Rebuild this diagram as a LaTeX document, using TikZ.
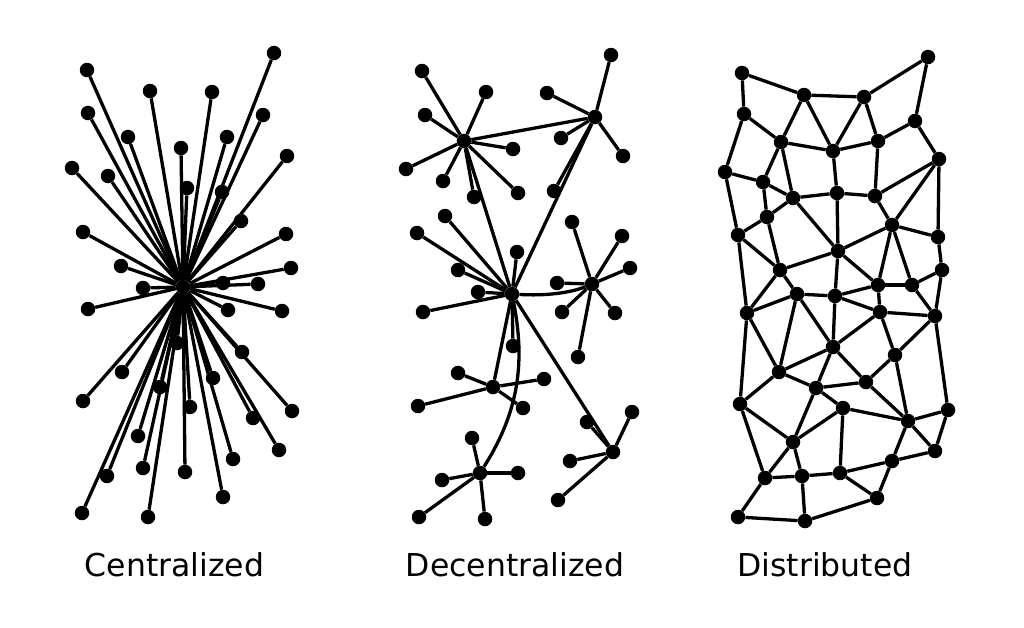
\documentclass[tikz,border=0pt]{standalone}
\usepackage{fontspec}
\setmainfont{DejaVu Sans}
\tikzset{
  dot/.style={circle, fill=black, inner sep=0pt, minimum size=14.5pt},
  link/.style={line width=3.3pt, black},
  caption/.style={anchor=base, font=\fontsize{31.5}{36}\selectfont, inner sep=0pt}
}
\begin{document}
\begin{tikzpicture}[x=1pt,y=-1pt]
\useasboundingbox[fill=white] (0,0) rectangle (1024,627);

% ---------------- Centralized ----------------
\node[dot] (ch) at (183,287) {};
\foreach [count=\i] \x/\y in {87/70,274/53,150/91,212/92,88/113,263/115,128/137,227/137,181/148,287/156,72/168,108/176,187/188,222/192,241/221,83/232,286/234,121/266,291/268,223/283,258/284,143/288,88/309,228/310,282/311,242/352,122/372,213/378,160/387,83/401,190/407,292/411,253/418,138/436,233/459,279/450,143/468,185/472,107/476,223/497,82/513,148/517,177/343}
{
  \node[dot] (c\i) at (\x,\y) {};
  \draw[link] (ch) -- (c\i);
}

% ---------------- Decentralized ----------------
\node[dot] (dA) at (464,141) {};
\node[dot] (dB) at (595,117) {};
\node[dot] (dC) at (512,294) {};
\node[dot] (dD) at (592,284) {};
\node[dot] (dE) at (493,387) {};
\node[dot] (dF) at (480,473) {};
\node[dot] (dG) at (613,452) {};

\foreach [count=\i] \x/\y in {422/71,486/92,425/115,513/149,406/169,443/181,474/197,518/193}
{ \node[dot] (a\i) at (\x,\y) {}; \draw[link] (dA) -- (a\i); }
\foreach [count=\i] \x/\y in {611/55,547/93,561/138,623/156,554/191}
{ \node[dot] (b\i) at (\x,\y) {}; \draw[link] (dB) -- (b\i); }
\foreach [count=\i] \x/\y in {445/216,417/233,517/252,458/270,478/292,423/312,513/346}
{ \node[dot] (cc\i) at (\x,\y) {}; \draw[link] (dC) -- (cc\i); }
\foreach [count=\i] \x/\y in {572/222,622/236,630/268,557/283,562/312,615/313,578/357}
{ \node[dot] (d\i) at (\x,\y) {}; \draw[link] (dD) -- (d\i); }
\foreach [count=\i] \x/\y in {458/373,544/379,418/406,523/408}
{ \node[dot] (e\i) at (\x,\y) {}; \draw[link] (dE) -- (e\i); }
\foreach [count=\i] \x/\y in {472/438,518/473,442/480,419/517,485/519}
{ \node[dot] (f\i) at (\x,\y) {}; \draw[link] (dF) -- (f\i); }
\foreach [count=\i] \x/\y in {632/412,587/422,570/461,558/500}
{ \node[dot] (g\i) at (\x,\y) {}; \draw[link] (dG) -- (g\i); }

\draw[link] (dA) -- (dB);
\draw[link] (dA) -- (dC);
\draw[link] (dB) -- (dC);
\draw[link] (dC) .. controls (545,296) and (570,293) .. (dD);
\draw[link] (dC) -- (dE);
\draw[link] (dC) .. controls (525,360) and (520,410) .. (dF);
\draw[link] (dC) -- (dG);

% ---------------- Distributed ----------------
\foreach \n/\x/\y in {
  n1/742/73, n2/804/95, n3/864/97, n4/928/57, n5/744/114,
  n6/781/142, n7/833/151, n8/878/141, n9/915/121, n10/939/159,
  n11/725/172, m2/763/182, m3/793/198, m4/837/193, m5/875/196,
  m7/767/217, m8/892/225, m9/738/235, m10/938/237, m11/838/251,
  m12/780/270, m13/942/270, m14/878/285, m15/912/285, m16/797/294,
  m17/835/296, p1/747/313, p4/880/312, p5/935/316, p6/833/347,
  p7/895/355, p8/779/372, p9/866/382, p10/816/388, p11/740/404,
  p12/843/408, p13/948/410, p14/908/421, q5/793/442, q6/935/451,
  q7/892/461, q8/765/478, q9/802/476, q10/840/473, q11/877/498,
  q12/738/517, q13/805/521}
{ \node[dot] (\n) at (\x,\y) {}; }

\foreach \a/\b in {
  n1/n2, n2/n3, n3/n4, n1/n5, n4/n9, n5/n6, n2/n6, n2/n7, n3/n7, n3/n8,
  n6/n7, n7/n8, n8/n9, n9/n10, n5/n11,
  n11/m2, n6/m2, n6/m3, n7/m4, n8/m5, n10/m5, n10/m8, n10/m10,
  m2/m3, m3/m4, m4/m5, m2/m7, m3/m7, n11/m9, m7/m9, m3/m11, m4/m11,
  m5/m8, m8/m11, m8/m10, m10/m13, m9/m12, m7/m12, m11/m12, m11/m14,
  m8/m14, m8/m15, m13/m15, m11/m17, m12/m16, m16/m17, m14/m15,
  m12/p1, m9/p1, p1/m16, m17/p4, m17/m14, m14/p4, m15/p5, m13/p5, p4/p5,
  m16/p6, m16/p8, m17/p6, p4/p6, p4/p7, p5/p7, p1/p8, p6/p8, p6/p9,
  p6/p10, p8/p10, p9/p10, p7/p9, p7/p14, p9/p14, p10/p12, p8/p11,
  p1/p11, p5/p13, p12/p14, p13/p14,
  p11/q5, p11/q8, q5/q8, q5/q9, p10/q5, q5/p12, p12/q10, p14/q6, p14/q7,
  p13/q6, q6/q7, q8/q9, q9/q10, q10/q7, q10/q11, q7/q11, q9/q13, q8/q12,
  q12/q13, q13/q11}
{ \draw[link] (\a) -- (\b); }

% ---------------- Captions ----------------
\node[caption] (t1) at (174.5,576) {Centralized};
\node[caption] (t2) at (515,576) {Decentralized};
\node[caption] (t3) at (825,576) {Distributed};
\end{tikzpicture}
\end{document}
